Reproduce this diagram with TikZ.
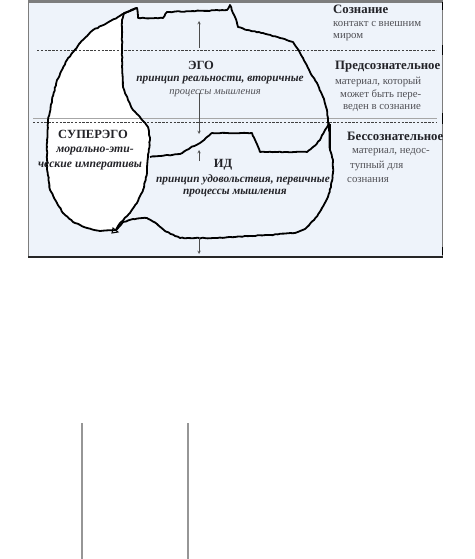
\documentclass[tikz,border=0pt]{standalone}
\usepackage{fontspec}
\setmainfont{Liberation Serif}
\usetikzlibrary{positioning,decorations.pathmorphing}
\definecolor{panelColor}{RGB}{238,243,250}
\definecolor{frameGray}{RGB}{125,125,125}
\definecolor{textGray}{RGB}{35,35,40}
\definecolor{softGray}{RGB}{80,80,85}
\definecolor{stemGray}{RGB}{150,150,150}
\tikzstyle{diagram} = [x = 1pt, y = -1pt]
\tikzstyle{blobLine} = [color=black, line width=1.8pt, line join=round, decorate, decoration={random steps, segment length=2.5pt, amplitude=.4pt}]
\tikzstyle{layerDash} = [color=black!75, line width=.8pt, dash pattern=on 2.4pt off 1.4pt]
\tikzstyle{layerRule} = [color=black!35, line width=.7pt]
\tikzstyle{layerArrow} = [color=black!70, line width=.5pt, ->, >=stealth]
\tikzstyle{edgeMark} = [color=black, line width=1.6pt]
\tikzstyle{partTitle} = [font=\bfseries\fontsize{12.5}{13}\selectfont, text=textGray, inner sep=0]
\tikzstyle{partMotto} = [font=\bfseries\itshape\fontsize{11.3}{12}\selectfont, text=textGray, inner sep=0]
\tikzstyle{superMottoStyle} = [partMotto, font=\bfseries\itshape\fontsize{11.7}{12}\selectfont]
\tikzstyle{layerTitle} = [font=\bfseries\fontsize{12.8}{13}\selectfont, text=textGray, anchor=west, inner sep=0]
\tikzstyle{layerNote} = [font=\fontsize{10.8}{11}\selectfont, text=softGray, anchor=west, inner sep=0]
\newcommand{\layerArrowLine}[2]{\draw [layerArrow] (#1) -- (#2);}
\pgfmathsetseed{11}
\begin{document}
\begin{tikzpicture}[diagram]
\useasboundingbox (0,0) rectangle (474,559);
% panel
\fill [panelColor] (28,3) rectangle (443,257);
\fill [frameGray] (28,0) rectangle (443,3);
\draw [frameGray, line width=.7pt] (28.3,3) -- (28.3,257);
\draw [frameGray, line width=.7pt] (442.3,3) -- (442.3,257);
\draw [black!85, line width=1.8pt] (28,257) -- (443,257);
\foreach \top/\bottom in {2/10, 45/55, 113/124, 247/255}
  \draw [edgeMark] (442.3,\top) -- (442.3,\bottom);
% superego
\fill [white] (137,8) -- (127,12) -- (118,17) -- (107,23) -- (93,30) -- (80,43) -- (67,60) -- (57,80) -- (52,100) -- (48,120) -- (47,140) -- (47,167) -- (50,190) -- (57,203) -- (63,213) -- (73,222) -- (87,228) -- (100,231) -- (115,231) -- (120,223) -- (130,213) -- (137,203) -- (143,190) -- (147,173) -- (148,157) -- (150,140) -- (148,127) -- (140,117) -- (133,110) -- (128,100) -- (123,87) -- (122,67) -- (122,20) -- (124,13) -- cycle;
% layer lines
\draw [layerDash] (37,50) -- (436,50);
\draw [layerRule] (33,118) -- (437,118);
\draw [layerDash] (33,122) -- (437,122);
% outer outline
\draw [blobLine] (116,230) -- (100,231) -- (87,228) -- (73,222) -- (63,213) -- (57,203) -- (50,190) -- (47,167) -- (47,140) -- (48,120) -- (52,100) -- (57,80) -- (67,60) -- (80,43) -- (93,30) -- (107,23) -- (118,17) -- (127,12) -- (137,8)
  -- (138,18) -- (163,18) -- (167,12) -- (227,10) -- (230,5) -- (235,17) -- (238,27) -- (247,30) -- (263,33) -- (280,38) -- (293,42) -- (297,48) -- (303,58) -- (310,72) -- (317,83) -- (323,97) -- (327,110) -- (329,127) -- (330,150) -- (333,160) -- (333,173) -- (331,187) -- (327,199) -- (321,210) -- (314,220) -- (305,229) -- (295,233) -- (270,235) -- (250,236) -- (215,238) -- (180,238) -- (165,231) -- (157,224) -- (147,218) -- (133,219) -- (123,222) -- (116,230);
\draw [black, line width=2.4pt] (330,124) -- (330,150);
% superego border
\draw [blobLine] (116,230) -- (120,223) -- (130,213) -- (137,203) -- (143,190) -- (147,173) -- (148,157) -- (150,140) -- (148,127) -- (140,117) -- (133,110) -- (128,100) -- (123,87) -- (122,67) -- (122,20) -- (124,13) -- (137,8);
\draw [black, line width=1pt] (113,228) -- (118,232) -- (112,233) -- cycle;
% ego and id border
\draw [blobLine] (150,157) -- (180,154) -- (190,148) -- (200,143) -- (207,137) -- (212,133) -- (252,133) -- (260,152) -- (307,152) -- (313,147) -- (320,140) -- (325,130) -- (329,123);
% arrows
\coordinate (topStart) at (199,48);
\coordinate (topEnd) at (199,21);
\coordinate (egoStart) at (199,93);
\coordinate (egoEnd) at (199,134);
\coordinate (idStart) at (199,161);
\coordinate (idEnd) at (199,150);
\coordinate (bottomStart) at (199,237);
\coordinate (bottomEnd) at (199,254);
\layerArrowLine{topStart}{topEnd}
\layerArrowLine{egoStart}{egoEnd}
\layerArrowLine{idStart}{idEnd}
\layerArrowLine{bottomStart}{bottomEnd}
% parts
\node [partTitle] (egoTitle) at (201,65) {ЭГО};
\node [partMotto] (egoMotto) at (220,80) {принцип реальности, вторичные};
\node [partMotto, font=\itshape\fontsize{10.5}{11}\selectfont, text=softGray] (egoProcess) at (215,93) {процессы мышления};
\node [partTitle] (superTitle) at (93,134) {СУПЕРЭГО};
\node [superMottoStyle] (superMotto) at (95,151) {морально-эти-};
\node [superMottoStyle] (superMottoTail) at (90,166) {ческие императивы};
\node [partTitle] (idTitle) at (223,165) {ИД};
\node [partMotto] (idMotto) at (243,180) {принцип удовольствия, первичные};
\node [partMotto] (idProcess) at (235,193) {процессы мышления};
% layers
\node [layerTitle] (consTitle) at (333,9) {Сознание};
\node [layerNote] (consNote) at (333,24) {контакт с внешним};
\node [layerNote] (consNoteTail) at (333,37) {миром};
\node [layerTitle] (preTitle) at (335,67) {Предсознательное};
\node [layerNote] (preNote) at (335,82) {материал, который};
\node [layerNote] (preNoteMid) at (340,95) {может быть пере-};
\node [layerNote] (preNoteTail) at (343,108) {веден в сознание};
\node [layerTitle] (unconsTitle) at (347,136) {Бессознательное};
\node [layerNote] (unconsNote) at (352,152) {материал, недос-};
\node [layerNote] (unconsNoteMid) at (350,166) {тупный для};
\node [layerNote] (unconsNoteTail) at (347,180) {сознания};
% lower columns
\draw [stemGray, line width=1.4pt] (82,423) -- (82,559);
\draw [stemGray, line width=1.4pt] (188,423) -- (188,559);
\end{tikzpicture}
\end{document}
